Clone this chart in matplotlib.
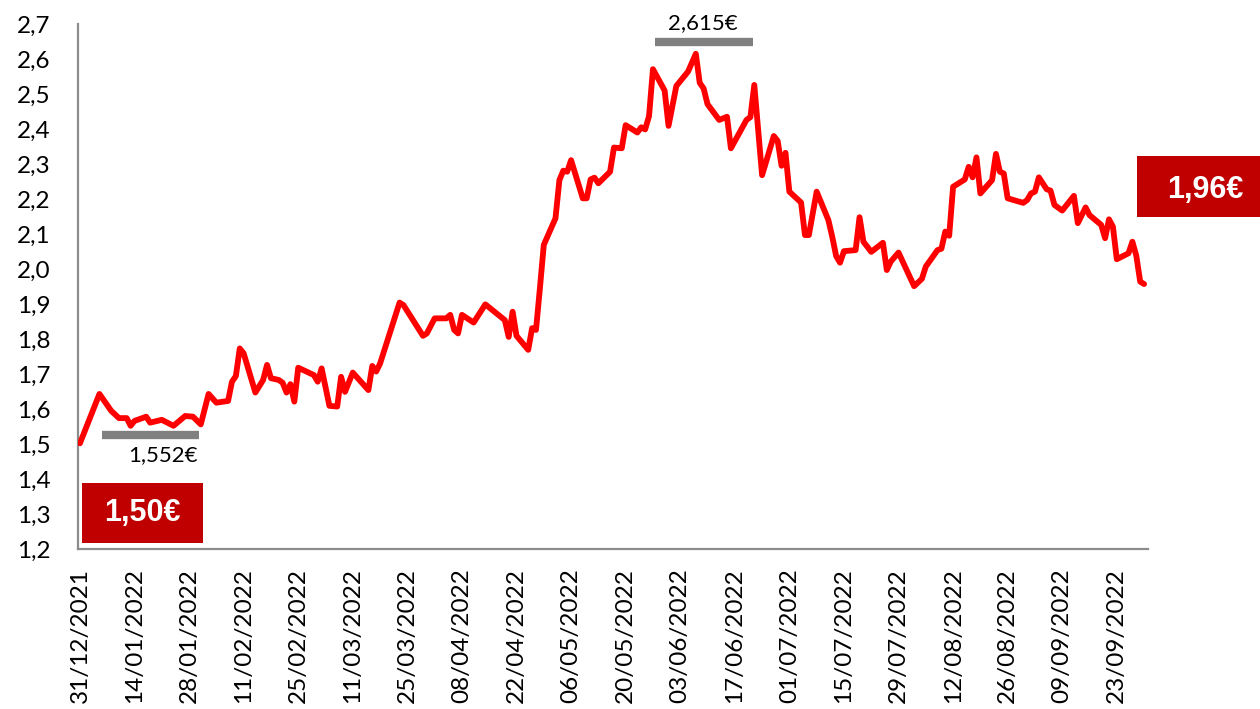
import matplotlib
matplotlib.use("Agg")
import matplotlib.pyplot as plt
from matplotlib.patches import Rectangle
from matplotlib.ticker import FuncFormatter, MultipleLocator
import pandas as pd

plt.rcParams['font.family'] = ['Lato', 'DejaVu Sans']

# share price (days counted from 31/12/2021)
start = pd.Timestamp('2021-12-31')
days = [0, 5, 8, 10, 12, 13, 14, 17, 18, 21, 24, 27, 29, 31, 33, 35, 38, 39, 40, 41,
        42, 45, 47, 48, 49, 51, 52, 53, 54, 55, 56, 60, 61, 62, 64, 66, 67, 68, 70, 74,
        75, 76, 77, 80, 82, 83, 88, 89, 91, 94, 95, 96, 97, 98, 101, 104, 109, 110, 111, 112,
        115, 116, 117, 118, 119, 122, 123, 124, 125, 126, 129, 130, 131, 132, 133, 136, 137, 139, 140, 143,
        144, 145, 146, 147, 150, 151, 153, 156, 158, 159, 160, 161, 164, 166, 167, 171, 172, 173, 175, 178,
        179, 180, 181, 182, 185, 186, 187, 189, 192, 193, 194, 195, 196, 199, 200, 201, 203, 206, 207, 208,
        210, 214, 216, 217, 220, 221, 222, 223, 224, 227, 228, 229, 230, 231, 234, 235, 236, 237, 238, 242,
        243, 244, 245, 246, 248, 249, 250, 252, 255, 256, 258, 259, 262, 263, 264, 265, 266, 269, 270, 271,
        272, 273]
prices = [1.502, 1.643, 1.595, 1.574, 1.574, 1.552, 1.566, 1.578, 1.561, 1.569, 1.552, 1.580, 1.578, 1.556, 1.643, 1.618, 1.623, 1.678, 1.694, 1.773,
          1.759, 1.647, 1.683, 1.726, 1.688, 1.683, 1.675, 1.647, 1.671, 1.621, 1.718, 1.697, 1.678, 1.716, 1.609, 1.607, 1.692, 1.649, 1.704, 1.654,
          1.723, 1.707, 1.730, 1.835, 1.904, 1.897, 1.809, 1.816, 1.859, 1.859, 1.869, 1.826, 1.816, 1.869, 1.847, 1.899, 1.854, 1.806, 1.878, 1.809,
          1.769, 1.831, 1.826, 1.945, 2.069, 2.145, 2.254, 2.281, 2.278, 2.311, 2.202, 2.202, 2.256, 2.261, 2.245, 2.278, 2.347, 2.345, 2.411, 2.390,
          2.405, 2.399, 2.437, 2.571, 2.510, 2.409, 2.523, 2.564, 2.615, 2.532, 2.516, 2.471, 2.426, 2.435, 2.345, 2.426, 2.434, 2.526, 2.268, 2.380,
          2.366, 2.295, 2.332, 2.221, 2.190, 2.097, 2.097, 2.221, 2.140, 2.092, 2.037, 2.018, 2.051, 2.054, 2.148, 2.078, 2.049, 2.075, 1.997, 2.021,
          2.047, 1.951, 1.972, 2.007, 2.054, 2.058, 2.107, 2.095, 2.235, 2.256, 2.292, 2.262, 2.319, 2.216, 2.254, 2.329, 2.278, 2.273, 2.202, 2.189,
          2.197, 2.216, 2.221, 2.262, 2.228, 2.224, 2.183, 2.167, 2.209, 2.131, 2.176, 2.154, 2.126, 2.088, 2.142, 2.121, 2.028, 2.045, 2.078, 2.038,
          1.964, 1.957]

low_label = '1,552€'
high_label = '2,615€'
first_label = '1,50€'
last_label = '1,96€'

dates = start + pd.to_timedelta(days, unit='D')

fig = plt.figure(figsize=(12.6, 7.09), dpi=100)
ax = fig.add_axes([0.0619, 0.2257, 0.8492, 0.7404])

ax.plot(dates, prices, color='#FF0000', lw=4.2, solid_joinstyle='round', solid_capstyle='round', zorder=3)

ax.set_ylim(1.2, 2.7)
ax.set_xlim(start - pd.Timedelta(hours=12), start + pd.Timedelta(days=274))
ax.yaxis.set_major_locator(MultipleLocator(0.1))
ax.yaxis.set_major_formatter(FuncFormatter(lambda v, p: f'{v:.1f}'.replace('.', ',')))
ticks = pd.date_range(start, start + pd.Timedelta(days=266), freq='14D')
ax.set_xticks(ticks)
ax.set_xticklabels([t.strftime('%d/%m/%Y') for t in ticks], rotation=90)

ax.tick_params(axis='y', length=0, pad=20, labelsize=17.5)
ax.tick_params(axis='x', length=0, pad=14, labelsize=17.5)
for s in ['top', 'right']:
    ax.spines[s].set_visible(False)
for s in ['left', 'bottom']:
    ax.spines[s].set_color('#8C8C8C')
    ax.spines[s].set_linewidth(1.6)

# min / max marker bars
ax.plot([start + pd.Timedelta(days=5.6), start + pd.Timedelta(days=30.6)], [1.527, 1.527],
        color='#808080', lw=6, solid_capstyle='butt', zorder=2)
ax.text(start + pd.Timedelta(days=30.2), 1.469, low_label, ha='right', va='center', fontsize=16)
ax.plot([start + pd.Timedelta(days=147.4), start + pd.Timedelta(days=172.6)], [2.649, 2.649],
        color='#808080', lw=6, solid_capstyle='butt', zorder=2, clip_on=False)
ax.text(start + pd.Timedelta(days=159.8), 2.702, high_label, ha='center', va='center', fontsize=16, clip_on=False)

# first / last price boxes
ax.add_patch(Rectangle((0.0037, 0.0114), 0.1131, 0.1143, transform=ax.transAxes,
                       facecolor='#C00000', edgecolor='none', clip_on=False, zorder=4))
ax.text(0.060, 0.069, first_label, transform=ax.transAxes, ha='center', va='center',
        color='white', fontsize=22, fontweight='bold', family=['Liberation Sans', 'DejaVu Sans'], zorder=5)
ax.add_patch(Rectangle((0.9897, 0.6324), 0.13, 0.1162, transform=ax.transAxes,
                       facecolor='#C00000', edgecolor='none', clip_on=False, zorder=4))
ax.text(1.054, 0.684, last_label, transform=ax.transAxes, ha='center', va='center',
        color='white', fontsize=22, fontweight='bold', family=['Liberation Sans', 'DejaVu Sans'], zorder=5)

fig.savefig('out.png', dpi=100)
